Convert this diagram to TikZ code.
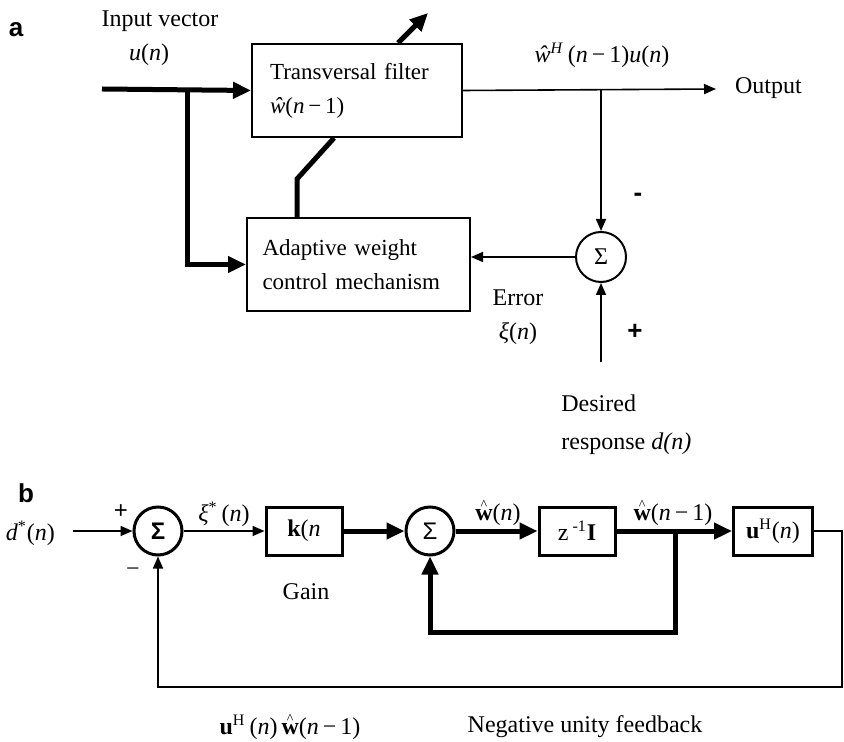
\documentclass[tikz,border=0pt]{standalone}
\usepackage{fontspec}
\setmainfont{Liberation Serif}
\setsansfont{Liberation Sans}
\usetikzlibrary{arrows.meta,calc}

\tikzset{
  blockbox/.style={draw, line width=1pt, inner sep=0pt},
  blockboxb/.style={draw, line width=1.5pt, inner sep=0pt, minimum height=24pt},
  sumcircle/.style={draw, circle, line width=1pt, minimum size=25pt, inner sep=0pt},
  sumcircleb/.style={draw, circle, line width=1.5pt, minimum size=24pt, inner sep=0pt},
  boldline/.style={line width=2.5pt},
  boldflow/.style={line width=2.5pt, -{Triangle[length=9pt,width=8pt]}},
  thinflow/.style={line width=0.8pt, -{Triangle[length=6pt,width=5pt]}},
  panellabel/.style={font=\sffamily\bfseries\fontsize{13}{15}\selectfont},
  signmark/.style={font=\sffamily\bfseries\fontsize{13}{15}\selectfont}
}
% bold w with a detached hat, as in panel b
\newcommand{\bhatw}{\shortstack{{\scriptsize\textasciicircum}\\[-3.5pt]\textbf{w}}}

\begin{document}
\begin{tikzpicture}[x=0.5pt,y=-0.5pt,font=\fontsize{12}{14.4}\selectfont]
  \useasboundingbox (0,0) rectangle (844,742);

  % panel a
  \node[panellabel] (lbla) at (16,30) {a};
  \node (invec) at (160,21) {Input vector};
  \node (invar) at (149,55) {\textit{u}(\textit{n})};
  \node[blockbox, minimum width=105pt, minimum height=46.5pt, text width=87pt,
    align=left, font=\fontsize{11.5}{14}\selectfont] (tf) at (357,90.5)
    {Transversal filter\\[3pt]\textit{ŵ}(\textit{n}\,−\,1)};
  \node[blockbox, minimum width=111.5pt, minimum height=46.5pt, text width=96pt,
    align=left, font=\fontsize{11.5}{14}\selectfont] (awc) at (358.5,264.5)
    {Adaptive weight\\[3pt]control mechanism};
  \node[sumcircle] (sa) at (601,257) {Σ};
  \node (outlbl) at (602,55)
    {\textit{ŵ}\textsuperscript{\textit{H}}\,(\textit{n}\,−\,1)\textit{u}(\textit{n})};
  \node[anchor=west] (outtxt) at (728,88) {Output};
  \node[signmark] (minusa) at (638,197) {-};
  \node[signmark] (plusa) at (635,332) {+};
  \node (errtxt) at (518,298) {Error};
  \node (errvar) at (518,334) {\textit{ξ}(\textit{n})};
  \node[anchor=north west, align=left, inner sep=0pt] (desired) at (561,394)
    {Desired\\[5pt]response \textit{d(n)}};

  \coordinate (inp) at (102,89);
  \coordinate (br1) at (187,89);
  \coordinate (adj) at (428,13);
  \coordinate (bend) at (297,179);
  \coordinate (br3) at (601,89);
  \coordinate (outp) at (716,89);
  \coordinate (dres) at (601,362);

  \draw[boldflow] (inp) -- (tf.west);
  \draw[boldflow] (br1) |- (awc.west);
  \draw[boldflow] ([xshift=20.5pt]tf.north) -- (adj);
  \draw[boldline] (awc.north -| bend) -- (bend) -- ([xshift=-11.5pt]tf.south);
  \draw[thinflow] (tf.east) -- (outp);
  \draw[thinflow] (br3) -- (sa.north);
  \draw[thinflow] (sa.west) -- (awc.east |- sa.west);
  \draw[thinflow] (dres) -- (sa.south);

  % panel b
  \node[panellabel] (lblb) at (26,493) {b};
  \node[anchor=east] (dstar) at (62,533) {\textit{d}\textsuperscript{*}(\textit{n})};
  \node[sumcircleb] (s1) at (158,531) {\sffamily\bfseries Σ};
  \node[blockboxb, minimum width=38pt] (kbox) at (304,531) {\textbf{k}(\textit{n}};
  \node[sumcircleb] (s2) at (430,531) {\sffamily Σ};
  \node[blockboxb, minimum width=38pt] (zbox) at (577,531) {z\,\textsuperscript{-1}\textbf{I}};
  \node[blockboxb, minimum width=39.5pt] (ubox) at (773,531)
    {\textbf{u}\textsuperscript{H}(\textit{n})};
  \node[signmark, font=\sffamily\fontsize{12}{14}\selectfont] (plusb) at (121,512) {+};
  \node (minusb) at (133,572) {−};
  \node (errb) at (224,514) {\textit{ξ}\textsuperscript{*}\,(\textit{n})};
  \node[anchor=base] (wn) at (498,520) {\bhatw(\textit{n})};
  \node[anchor=base] (wn1) at (673,520) {\bhatw(\textit{n}\,−\,1)};
  \node (gain) at (306,592) {Gain};
  \node[anchor=base] (fbexpr) at (290,734)
    {\textbf{u}\textsuperscript{H}\,(\textit{n})\,\bhatw(\textit{n}\,−\,1)};
  \node (fbtxt) at (585,727) {Negative unity feedback};

  \coordinate (din) at (73,531);
  \coordinate (br2) at (675,531);
  \coordinate (lp) at (675,632);
  \coordinate (fb) at (842,687);

  \draw[thinflow] (din) -- (s1.west);
  \draw[thinflow] (s1.east) -- (kbox.west);
  \draw[boldflow] (kbox.east) -- (s2.west);
  \draw[boldflow] (s2.east) -- (zbox.west);
  \draw[boldflow] (zbox.east) -- (ubox.west);
  \draw[boldflow] (br2) -- (lp) -| (s2.south);
  \draw[thinflow] (ubox.east) -| (fb) -| (s1.south);
\end{tikzpicture}
\end{document}
